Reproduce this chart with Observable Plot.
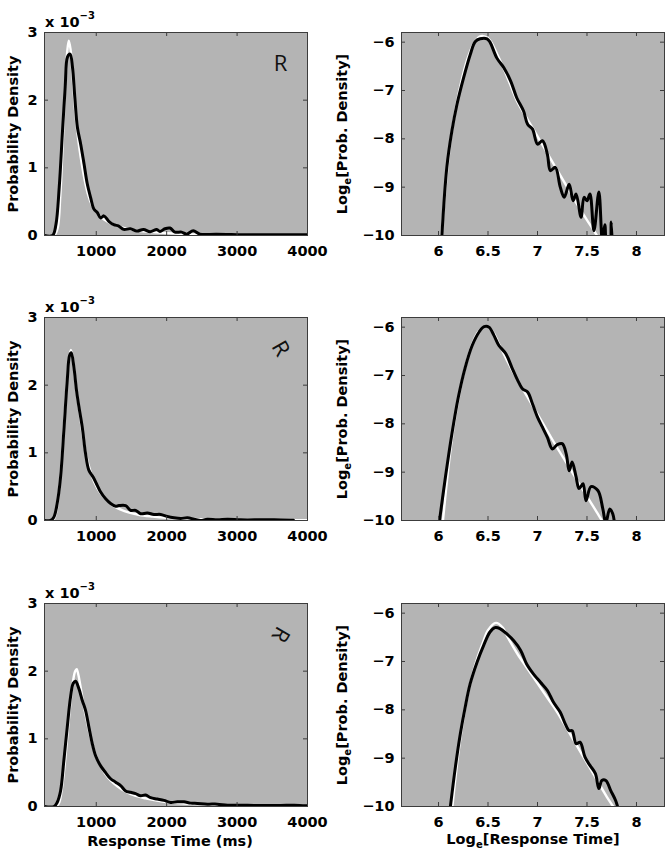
<!DOCTYPE html>
<html>
<head>
<meta charset="utf-8">
<script src="https://cdn.jsdelivr.net/npm/d3@7"></script>
<script src="https://cdn.jsdelivr.net/npm/@observablehq/plot@0.6"></script>
<style>
  html, body { margin: 0; padding: 0; background: #fff; }
  #wrap { position: relative; width: 670px; height: 860px; overflow: hidden; background: #fff;
          font-family: "DejaVu Sans", sans-serif; font-weight: bold; font-size: 14.5px; color: #000; }
  .ylab { position: absolute; white-space: nowrap; transform: translate(-50%, -50%) rotate(-90deg); line-height: 1; }
  .xlab { position: absolute; white-space: nowrap; transform: translateX(-50%); line-height: 1; }
  .sci { position: absolute; white-space: nowrap; line-height: 1; }
  .sci sup { font-size: 10px; position: relative; top: -2px; }
  sub { font-size: 10px; line-height: 0; }
  .plot { position: absolute; }
</style>
</head>
<body>
<div id="wrap"></div>
<script>
// ---------------- data ----------------
// Left column: response time (ms) and probability density (x 10^-3)
const rtTopObs  = [265, 380, 427, 474, 521, 559, 592, 629, 662, 695, 732, 779, 826, 873, 920, 967, 1014, 1061, 1108, 1178, 1249, 1319, 1390, 1484, 1577, 1671, 1765, 1859, 1905, 1976, 2047, 2117, 2212, 2283, 2377, 2471, 2707, 3178, 3650, 3928, 4000];
const denTopObs = [0, 0, 0.16, 0.71, 1.55, 2.2, 2.64, 2.68, 2.49, 2.05, 1.6, 1.35, 1.06, 0.76, 0.56, 0.39, 0.34, 0.26, 0.29, 0.21, 0.16, 0.14, 0.09, 0.1, 0.065, 0.09, 0.055, 0.09, 0.06, 0.1, 0.11, 0.05, 0.05, 0.02, 0.07, 0.02, 0.02, 0.01, 0.01, 0.01, 0.01];
const rtTopFit  = [265, 400, 450, 490, 527, 560, 588, 610, 635, 665, 700, 740, 780, 830, 880, 930, 980, 1050, 1150, 1250, 1400, 1600, 1800, 2000, 2300, 2600, 3000, 3500, 4000];
const denTopFit = [0, 0, 0.1, 0.6, 1.45, 2.25, 2.72, 2.88, 2.75, 2.35, 1.85, 1.45, 1.15, 0.85, 0.62, 0.47, 0.38, 0.29, 0.21, 0.16, 0.11, 0.07, 0.05, 0.035, 0.02, 0.012, 0.007, 0.004, 0.002];

const rtMidObs  = [265, 350, 398, 445, 493, 540, 588, 621, 645, 682, 720, 754, 801, 848, 896, 957, 1014, 1062, 1133, 1204, 1275, 1322, 1417, 1488, 1559, 1630, 1725, 1820, 1915, 2009, 2104, 2199, 2294, 2389, 2483, 2578, 2720, 2863, 3052, 3336, 3526, 3763, 3800];
const denMidObs = [0, 0, 0.05, 0.25, 0.64, 1.33, 2.07, 2.44, 2.48, 2.27, 1.92, 1.68, 1.38, 0.99, 0.74, 0.64, 0.52, 0.42, 0.32, 0.25, 0.21, 0.22, 0.22, 0.15, 0.15, 0.1, 0.11, 0.09, 0.09, 0.06, 0.04, 0.03, 0.04, 0.02, 0.0, 0.02, 0.01, 0.02, 0.01, 0.01, 0.01, 0.005, 0.005];
const rtMidFit  = [265, 380, 420, 460, 500, 540, 580, 615, 640, 670, 710, 760, 810, 860, 920, 980, 1050, 1150, 1250, 1400, 1600, 1800, 2000, 2300, 2600, 3000, 3500, 4000];
const denMidFit = [0, 0, 0.08, 0.32, 0.78, 1.38, 2.0, 2.4, 2.52, 2.38, 2.0, 1.62, 1.25, 0.95, 0.72, 0.55, 0.42, 0.3, 0.21, 0.14, 0.085, 0.058, 0.04, 0.025, 0.015, 0.009, 0.005, 0.003];

const rtBotObs  = [265, 400, 445, 493, 540, 588, 635, 673, 706, 754, 801, 848, 896, 943, 991, 1062, 1133, 1204, 1275, 1346, 1417, 1488, 1559, 1630, 1701, 1772, 1867, 1962, 2057, 2152, 2246, 2341, 2436, 2578, 2720, 2863, 3052, 3242, 3431, 3621, 3810, 4000];
const denBotObs = [0, 0, 0.06, 0.23, 0.68, 1.17, 1.62, 1.82, 1.85, 1.74, 1.57, 1.42, 1.17, 0.93, 0.75, 0.60, 0.50, 0.41, 0.36, 0.31, 0.23, 0.21, 0.19, 0.16, 0.17, 0.13, 0.11, 0.09, 0.06, 0.07, 0.07, 0.05, 0.045, 0.035, 0.035, 0.02, 0.02, 0.015, 0.015, 0.015, 0.02, 0.01];
const rtBotFit  = [265, 420, 470, 510, 550, 590, 630, 670, 700, 722, 745, 780, 820, 860, 900, 950, 1000, 1060, 1130, 1200, 1300, 1400, 1550, 1700, 1900, 2100, 2400, 2700, 3000, 3500, 4000];
const denBotFit = [0, 0, 0.05, 0.25, 0.6, 1.05, 1.5, 1.85, 2.0, 2.03, 1.95, 1.75, 1.5, 1.3, 1.1, 0.9, 0.74, 0.6, 0.48, 0.39, 0.3, 0.23, 0.16, 0.12, 0.08, 0.055, 0.035, 0.022, 0.015, 0.008, 0.004];

// Right column: ln(response time) and ln(probability density)
const lrtTopObs  = [6.034, 6.084, 6.135, 6.186, 6.253, 6.32, 6.37, 6.42, 6.49, 6.52, 6.59, 6.66, 6.73, 6.79, 6.86, 6.90, 6.95, 7.0, 7.05, 7.10, 7.13, 7.18, 7.23, 7.27, 7.32, 7.36, 7.39, 7.44, 7.47, 7.5, 7.53, 7.57, 7.62, 7.655, 7.68, 7.70, 7.73, 7.745, 7.76];
const ldenTopObs = [-10, -8.59, -7.84, -7.29, -6.74, -6.26, -5.99, -5.93, -5.93, -6.0, -6.33, -6.53, -6.81, -7.15, -7.43, -7.70, -7.80, -8.11, -8.04, -8.32, -8.66, -8.59, -9.0, -9.21, -8.94, -9.28, -9.14, -9.62, -9.21, -9.28, -9.14, -9.9, -9.10, -10.1, -9.78, -10.3, -10.4, -9.72, -10.4];
const lrtTopFit  = [6.03, 6.1, 6.15, 6.2, 6.25, 6.3, 6.35, 6.42, 6.5, 6.6, 6.7, 6.8, 6.9, 7.0, 7.1, 7.2, 7.3, 7.4, 7.5, 7.6, 7.65];
const ldenTopFit = [-10, -8.4, -7.65, -7.1, -6.65, -6.3, -6.05, -5.88, -5.92, -6.28, -6.75, -7.25, -7.6, -7.95, -8.3, -8.65, -9.0, -9.35, -9.68, -10.0, -10.2];

const lrtMidObs  = [6.01, 6.07, 6.135, 6.20, 6.27, 6.34, 6.41, 6.46, 6.51, 6.56, 6.61, 6.68, 6.74, 6.80, 6.85, 6.90, 6.95, 7.0, 7.05, 7.10, 7.15, 7.20, 7.25, 7.29, 7.32, 7.35, 7.39, 7.42, 7.46, 7.49, 7.54, 7.61, 7.66, 7.69, 7.73, 7.76, 7.78];
const ldenMidObs = [-10, -9.1, -8.21, -7.45, -6.83, -6.38, -6.10, -5.99, -6.0, -6.17, -6.38, -6.55, -6.83, -7.10, -7.28, -7.34, -7.59, -7.86, -8.07, -8.28, -8.52, -8.43, -8.41, -8.62, -8.97, -8.79, -9.10, -9.34, -9.24, -9.59, -9.30, -9.38, -9.76, -10.05, -9.76, -9.86, -10.1];
const lrtMidFit  = [6.045, 6.1, 6.15, 6.2, 6.25, 6.3, 6.35, 6.4, 6.48, 6.55, 6.6, 6.7, 6.8, 6.9, 7.0, 7.1, 7.2, 7.3, 7.4, 7.5, 7.6, 7.66, 7.72];
const ldenMidFit = [-10, -8.9, -8.1, -7.5, -7.0, -6.6, -6.3, -6.1, -5.98, -6.1, -6.3, -6.72, -7.1, -7.45, -7.8, -8.15, -8.5, -8.83, -9.17, -9.5, -9.83, -10.03, -10.2];

const lrtBotObs  = [6.12, 6.17, 6.22, 6.27, 6.32, 6.39, 6.455, 6.52, 6.57, 6.62, 6.69, 6.76, 6.83, 6.89, 6.96, 7.03, 7.10, 7.16, 7.23, 7.28, 7.32, 7.35, 7.39, 7.43, 7.48, 7.53, 7.585, 7.62, 7.65, 7.69, 7.74, 7.79, 7.81];
const ldenBotObs = [-10, -9.19, -8.50, -7.94, -7.46, -7.01, -6.67, -6.39, -6.30, -6.32, -6.43, -6.57, -6.77, -7.05, -7.26, -7.43, -7.60, -7.84, -8.05, -8.29, -8.43, -8.43, -8.70, -8.67, -8.98, -9.15, -9.32, -9.63, -9.46, -9.46, -9.67, -9.88, -10.01];
const lrtBotFit  = [6.14, 6.2, 6.25, 6.3, 6.35, 6.4, 6.45, 6.5, 6.58, 6.65, 6.7, 6.8, 6.9, 7.0, 7.1, 7.2, 7.3, 7.4, 7.5, 7.6, 7.7, 7.78, 7.82];
const ldenBotFit = [-10, -8.9, -8.2, -7.65, -7.22, -6.88, -6.6, -6.35, -6.2, -6.3, -6.5, -6.85, -7.15, -7.45, -7.75, -8.05, -8.4, -8.75, -9.1, -9.45, -9.8, -10.05, -10.2];

// ticks and labels
const leftXTicks  = [1000, 2000, 3000, 4000];
const leftYTicks  = [0, 1, 2, 3];
const rightXTicks = [6, 6.5, 7, 7.5, 8];
const rightYTicks = [-10, -9, -8, -7, -6];
const leftXDomain  = [265, 4000];
const leftYDomain  = [0, 3];
const rightXDomain = [5.626, 8.283];
const rightYDomain = [-10, -5.8];
const stimulusRotation = [0, 60, 120];
const leftYLabel  = "Probability Density";
const rightYLabelMain = ["Log", "e", "[Prob. Density]"];
const leftXLabel  = "Response Time (ms)";
const rightXLabelMain = ["Log", "e", "[Response Time]"];

// ---------------- layout ----------------
const frameTops = [32, 317, 603];
const innerH = 203;
const mTop = 32, mBottom = 30;
const svgH = mTop + innerH + mBottom;
const GRAY = "#b4b4b4";
const BOX = "#3c3c3c";
const TICK = 4;

const wrap = document.getElementById("wrap");
const toRows = (xs, ys) => xs.map((x, i) => ({x, y: ys[i]}));
const fmtNum = d => (d < 0 ? "\u2212" : "") + String(Math.abs(d));

function panel({width, mLeft, mRight, xDomain, yDomain, xTicks, yTicks, obs, fit, rot}) {
  const innerW = width - mLeft - mRight;
  const marks = [
    Plot.frame({fill: GRAY}),
    Plot.line(fit, {x: "x", y: "y", stroke: "#fff", strokeWidth: 2.4, curve: "catmull-rom", clip: true}),
    Plot.line(obs, {x: "x", y: "y", stroke: "#000", strokeWidth: 3, curve: "catmull-rom", clip: true}),
    Plot.tickX(xTicks, {x: d => d, insetTop: innerH - TICK, stroke: BOX}),
    Plot.tickX(xTicks, {x: d => d, insetBottom: innerH - TICK, stroke: BOX}),
    Plot.tickY(yTicks, {y: d => d, insetRight: innerW - TICK, stroke: BOX}),
    Plot.tickY(yTicks, {y: d => d, insetLeft: innerW - TICK, stroke: BOX}),
    Plot.axisX(xTicks, {tickSize: 0, tickPadding: 10, label: null, tickFormat: fmtNum}),
    Plot.axisY(yTicks, {tickSize: 0, tickPadding: 7, label: null, tickFormat: fmtNum}),
    Plot.frame({stroke: BOX, strokeWidth: 1})
  ];
  if (rot !== undefined) {
    marks.push(Plot.text(["R"], {frameAnchor: "top-right", dx: -27, dy: 31, rotate: rot,
      fontFamily: "Open Sans", fontWeight: "normal", fontSize: 22, fill: "#111",
      textAnchor: "middle", lineAnchor: "middle"}));
  }
  const chart = Plot.plot({
    width, height: svgH,
    marginLeft: mLeft, marginRight: mRight, marginTop: mTop, marginBottom: mBottom,
    x: {domain: xDomain},
    y: {domain: yDomain},
    style: {fontFamily: "DejaVu Sans", fontSize: "14.5px", fontWeight: "bold", background: "transparent", overflow: "visible", color: "#000"},
    marks
  });
  chart.classList.add("plot");
  return chart;
}

const leftSets = [
  [toRows(rtTopObs, denTopObs), toRows(rtTopFit, denTopFit)],
  [toRows(rtMidObs, denMidObs), toRows(rtMidFit, denMidFit)],
  [toRows(rtBotObs, denBotObs), toRows(rtBotFit, denBotFit)]
];
const rightSets = [
  [toRows(lrtTopObs, ldenTopObs), toRows(lrtTopFit, ldenTopFit)],
  [toRows(lrtMidObs, ldenMidObs), toRows(lrtMidFit, ldenMidFit)],
  [toRows(lrtBotObs, ldenBotObs), toRows(lrtBotFit, ldenBotFit)]
];

frameTops.forEach((F, r) => {
  const top = F - mTop;
  const lp = panel({width: 330, mLeft: 44, mRight: 23, xDomain: leftXDomain, yDomain: leftYDomain,
    xTicks: leftXTicks, yTicks: leftYTicks, obs: leftSets[r][0], fit: leftSets[r][1], rot: stimulusRotation[r]});
  lp.style.left = "0px"; lp.style.top = top + "px";
  wrap.appendChild(lp);

  const rp = panel({width: 340, mLeft: 71, mRight: 6, xDomain: rightXDomain, yDomain: rightYDomain,
    xTicks: rightXTicks, yTicks: rightYTicks, obs: rightSets[r][0], fit: rightSets[r][1]});
  rp.style.left = "330px"; rp.style.top = top + "px";
  wrap.appendChild(rp);

  // x 10^-3 multiplier
  const sci = document.createElement("div");
  sci.className = "sci";
  sci.style.left = "45px";
  sci.style.top = (F - 19) + "px";
  sci.innerHTML = "x 10<sup>\u22123</sup>";
  wrap.appendChild(sci);

  const mid = F + innerH / 2;
  const yl = document.createElement("div");
  yl.className = "ylab";
  yl.style.left = "13px"; yl.style.top = mid + "px";
  yl.textContent = leftYLabel;
  wrap.appendChild(yl);

  const yr = document.createElement("div");
  yr.className = "ylab";
  yr.style.left = "342px"; yr.style.top = mid + "px";
  yr.innerHTML = rightYLabelMain[0] + "<sub>" + rightYLabelMain[1] + "</sub>" + rightYLabelMain[2];
  wrap.appendChild(yr);
});

const xl = document.createElement("div");
xl.className = "xlab";
xl.style.left = "170px"; xl.style.top = "834px";
xl.textContent = leftXLabel;
wrap.appendChild(xl);

const xr = document.createElement("div");
xr.className = "xlab";
xr.style.left = "533px"; xr.style.top = "832px";
xr.innerHTML = rightXLabelMain[0] + "<sub>" + rightXLabelMain[1] + "</sub>" + rightXLabelMain[2];
wrap.appendChild(xr);
</script>
</body>
</html>
